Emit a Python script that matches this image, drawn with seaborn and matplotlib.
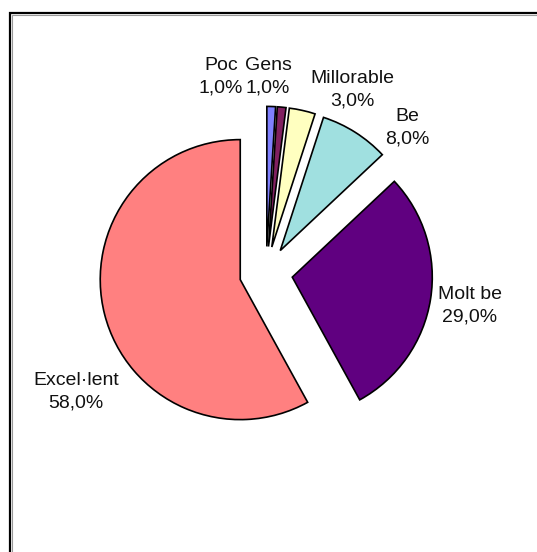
# Pie chart of survey answers (Catalan labels), exploded slices
import matplotlib
matplotlib.use("Agg")
import matplotlib.pyplot as plt
import seaborn as sns
from matplotlib.patches import Rectangle

# Data
categories = ["Poc", "Gens", "Millorable", "Be", "Molt be", "Excel·lent"]
shares = [1.0, 1.0, 3.0, 8.0, 29.0, 58.0]
colors = ["#8080FF", "#802060", "#FFFFC0", "#A0E0E0", "#600080", "#FF8080"]

# label block centres, in pixels of the 537x552 picture
label_px = [(221, 77), (268, 77), (352, 90), (407, 128), (470, 306), (76, 392)]

sns.set_theme(style="white")
plt.rcParams["font.family"] = ["Liberation Sans", "DejaVu Sans"]

W, H = 537, 552
cx, cy, r = 266, 273, 140  # pie centre and radius in pixels

fig = plt.figure(figsize=(W / 100, H / 100), dpi=100)
ax = fig.add_axes([0, 0, 1, 1])

ax.pie(shares, colors=colors, startangle=90, counterclock=False,
       explode=[0.19] * len(shares),
       wedgeprops={"edgecolor": "black", "linewidth": 1.2})

ax.set_xlim(-cx / r, (W - cx) / r)
ax.set_ylim(-(H - cy) / r, cy / r)
ax.set_aspect("equal")
ax.axis("off")

# labels: name + percentage with comma decimal
for name, val, (px, py) in zip(categories, shares, label_px):
    txt = f"{name}\n{val:.1f}%".replace(".", ",")
    ax.text((px - cx) / r, (cy - py) / r, txt, ha="center", va="center",
            fontsize=14, color="#111111", linespacing=1.45)

# chart frame (black line with grey shadow), cut by the picture edge
fig.patches.append(Rectangle((10 / W, -0.1), 1.2, 1 - 13 / H + 0.1,
                             transform=fig.transFigure, fill=False,
                             edgecolor="black", linewidth=1.6))
fig.patches.append(Rectangle((12 / W, -0.1), 1.2, 1 - 15 / H + 0.1,
                             transform=fig.transFigure, fill=False,
                             edgecolor="#999999", linewidth=0.8))

fig.savefig("out.png", dpi=100, facecolor="white")
